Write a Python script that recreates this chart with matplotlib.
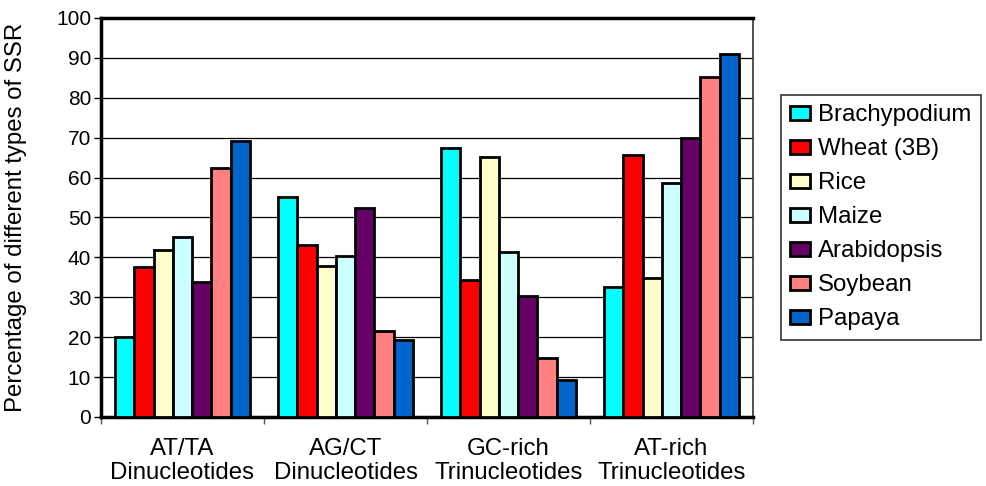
import numpy as np
import matplotlib.pyplot as plt

plt.rcParams['font.family'] = ['Liberation Sans', 'DejaVu Sans']

categories = ['AT/TA\nDinucleotides', 'AG/CT\nDinucleotides', 'GC-rich\nTrinucleotides', 'AT-rich\nTrinucleotides']
species = ['Brachypodium', 'Wheat (3B)', 'Rice', 'Maize', 'Arabidopsis', 'Soybean', 'Papaya']
colors = ['#00ffff', '#ff0000', '#ffffcc', '#ccffff', '#660066', '#ff8080', '#0066cc']

brachypodium = [20.0, 55.1, 67.5, 32.5]
wheat = [37.7, 43.1, 34.3, 65.7]
rice = [41.9, 37.9, 65.2, 34.9]
maize = [45.0, 40.3, 41.3, 58.7]
arabidopsis = [33.9, 52.3, 30.4, 69.8]
soybean = [62.3, 21.6, 14.7, 85.3]
papaya = [69.2, 19.3, 9.3, 90.9]
series = [brachypodium, wheat, rice, maize, arabidopsis, soybean, papaya]

fig = plt.figure(figsize=(9.87, 4.86), dpi=100)
ax = fig.add_axes([0.1023, 0.142, 0.6607, 0.821])

x = np.arange(len(categories))
w = 0.118
for i, vals in enumerate(series):
    ax.bar(x + (i - 3) * w, vals, w, color=colors[i], edgecolor='black', linewidth=2.0,
           label=species[i], zorder=3)

ax.set_xlim(-0.5, 3.5)
ax.set_ylim(0, 100)
ax.set_yticks(range(0, 101, 10))
ax.yaxis.grid(True, color='black', linewidth=0.9, zorder=0)
ax.set_xticks(x)
ax.set_xticklabels(categories, fontsize=17.3, linespacing=1.12)
ax.set_xticks(np.arange(-0.5, 4.0, 1.0), minor=True)
ax.tick_params(axis='x', which='major', length=0, pad=15)
ax.tick_params(axis='x', which='minor', length=5, width=1, color='#555555')
ax.tick_params(axis='y', length=5, width=1, labelsize=15, pad=2)
ax.set_ylabel('Percentage of different types of SSR', fontsize=17.3)
ax.yaxis.set_label_coords(-0.113, 0.5)

for s in ['left', 'bottom', 'top']:
    ax.spines[s].set_linewidth(2.5)
ax.spines['right'].set_linewidth(1.2)
ax.spines['right'].set_color('#333333')

leg = fig.legend(loc='upper left', bbox_to_anchor=(0.791, 0.805), fontsize=17.3,
                 frameon=True, fancybox=False, framealpha=1, edgecolor='#333333',
                 handlelength=0.83, handleheight=0.55, handletextpad=0.33,
                 labelspacing=0.5, borderpad=0.4, borderaxespad=0)
leg.get_frame().set_linewidth(1.2)

fig.savefig('out.png', dpi=100)
